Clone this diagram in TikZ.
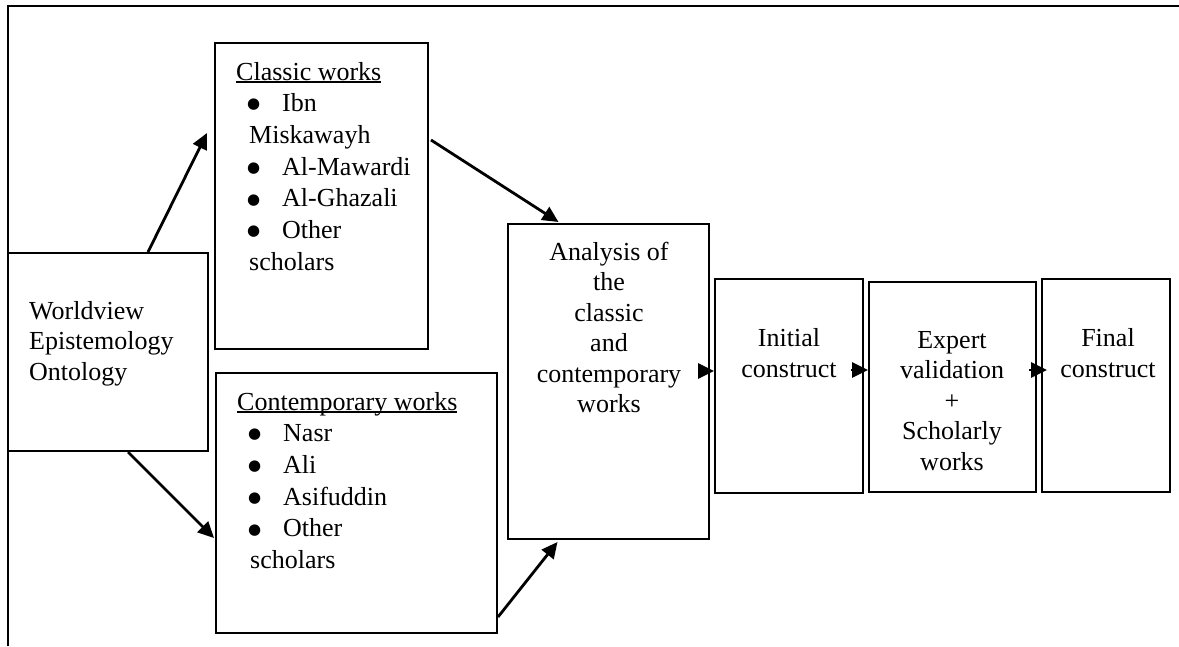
\documentclass[tikz,border=0pt]{standalone}
\usepackage{fontspec}
\setmainfont{Liberation Serif}
\newfontfamily\symfont{DejaVu Sans}
\usetikzlibrary{arrows.meta}
% underline drawn just under the baseline, through descenders
\newcommand\wordul[1]{\leavevmode\setbox0\hbox{#1}\rlap{\rule[-2.6pt]{\wd0}{1.3pt}}\box0}
\newcommand\bigdot{\raisebox{2.8pt}{\symfont\fontsize{15}{15}\selectfont ●}}
\newcommand\bulletitem{\hspace*{11pt}\makebox[35pt][l]{\bigdot}}
\newcommand\wrapitem{\hspace*{13pt}}

\begin{document}
\begin{tikzpicture}[x=1pt,y=-1pt,
  box/.style={draw, line width=2pt, inner sep=0pt, rectangle},
  txt/.style={inner sep=0pt, font=\fontsize{26}{30.5}\selectfont},
  listtxt/.style={inner sep=0pt, font=\fontsize{26}{31.7}\selectfont},
  flow/.style={line width=2.8pt, -{Triangle[length=16pt,width=15pt]}}]
\useasboundingbox (0,0) rectangle (1179,646);

% open outer frame
\coordinate (frame-bl) at (8,646);
\coordinate (frame-tl) at (8,6);
\coordinate (frame-tr) at (1179,6);
\draw[line width=2pt] (frame-bl) -- (frame-tl) -- (frame-tr);

% boxes
\node[box, minimum width=200pt, minimum height=198pt] (wv)   at (108,352)   {};
\node[box, minimum width=213pt, minimum height=306pt] (cls)  at (321.5,196) {};
\node[box, minimum width=281pt, minimum height=260pt] (cont) at (356.5,503) {};
\node[box, minimum width=201pt, minimum height=315pt] (ana)  at (608.5,381.5) {};
\node[box, minimum width=148pt, minimum height=214pt] (init) at (789,386)   {};
\node[box, minimum width=167pt, minimum height=210pt] (exp)  at (952.5,387) {};
\node[box, minimum width=128pt, minimum height=213pt] (fin)  at (1106,385.5) {};

% texts
\node[txt, anchor=base west] (wv-text) at (29,319)
  {\parbox[t]{175pt}{\raggedright Worldview\\Epistemology\\Ontology}};
\node[listtxt, anchor=base west] (cls-text) at (236,80)
  {\parbox[t]{190pt}{\raggedright \wordul{Classic works}\\
   \bulletitem Ibn\\ \wrapitem Miskawayh\\
   \bulletitem Al-Mawardi\\ \bulletitem Al-Ghazali\\
   \bulletitem Other\\ \wrapitem scholars}};
\node[listtxt, anchor=base west] (cont-text) at (237,410)
  {\parbox[t]{255pt}{\raggedright \wordul{Contemporary works}\\
   \bulletitem Nasr\\ \bulletitem Ali\\ \bulletitem Asifuddin\\
   \bulletitem Other\\ \wrapitem scholars}};
\node[txt, anchor=base] (ana-text) at (609,260)
  {\parbox[t]{195pt}{\centering Analysis of\\the\\classic\\and\\contemporary\\works}};
\node[txt, anchor=base] (init-text) at (789,346)
  {\parbox[t]{140pt}{\centering\baselineskip=31pt Initial\\construct}};
\node[txt, anchor=base] (exp-text) at (952,348)
  {\parbox[t]{160pt}{\centering Expert\\validation\\+\\Scholarly\\works}};
\node[txt, anchor=base] (fin-text) at (1108,346)
  {\parbox[t]{125pt}{\centering\baselineskip=31pt Final\\construct}};

% connectors
\draw[flow] ([xshift=40pt]wv.north) -- ([xshift=-7pt,yshift=63pt]cls.west);
\draw[flow] ([xshift=20pt]wv.south) -- ([xshift=-1pt,yshift=-35pt]cont.west);
\draw[flow] ([xshift=2pt,yshift=56pt]cls.east) -- ([xshift=-50pt,yshift=1pt]ana.north);
\draw[flow] ([yshift=-114pt]cont.east) -- ([xshift=-51pt,yshift=-2pt]ana.south);
\draw[flow] ([xshift=-9pt,yshift=10.5pt]ana.east) -- ([yshift=15pt]init.west);
\draw[flow] ([xshift=-13pt,yshift=16pt]init.east) -- ([yshift=17pt]exp.west);
\draw[flow] ([xshift=-8pt,yshift=17pt]exp.east) -- ([xshift=6pt,yshift=15.5pt]fin.west);
\end{tikzpicture}
\end{document}
